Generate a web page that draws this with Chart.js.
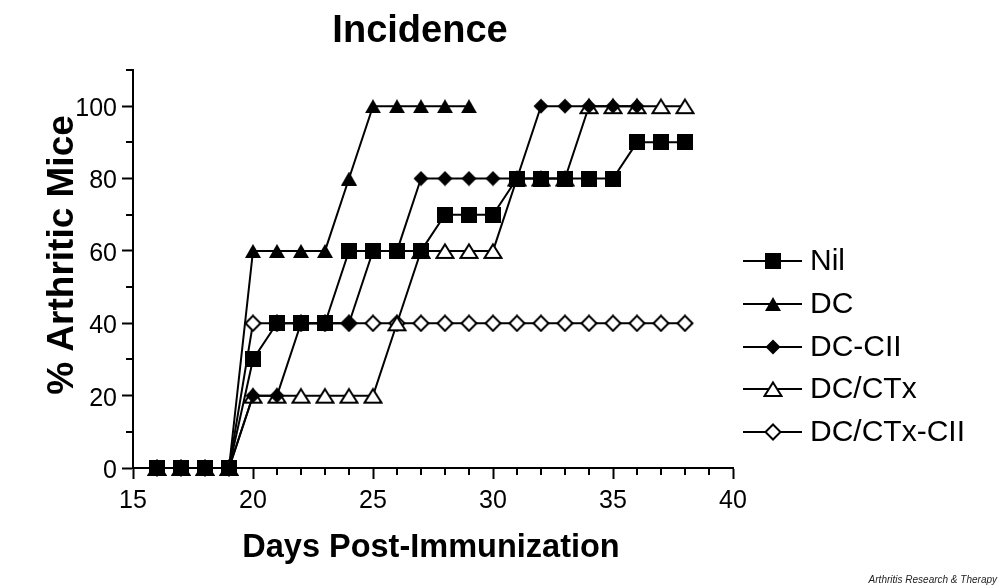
<!DOCTYPE html>
<html>
<head>
<meta charset="utf-8">
<script src="https://cdn.jsdelivr.net/npm/chart.js@4"></script>
<style>
html,body{margin:0;padding:0;background:#fff;}
#wrap{width:1000px;height:588px;position:relative;}
</style>
</head>
<body>
<div id="wrap"><canvas id="c" width="1000" height="588"></canvas></div>
<script>
// ---- data ----
const days = [16,17,18,19,20,21,22,23,24,25,26,27,28,29,30,31,32,33,34,35,36,37,38];
const seriesNames = ["Nil","DC","DC-CII","DC/CTx","DC/CTx-CII"];
const nil      = [0,0,0,0,30,40,40,40,60,60,60,60,70,70,70,80,80,80,80,80,90,90,90];
const dc       = [0,0,0,0,60,60,60,60,80,100,100,100,100,100,null,null,null,null,null,null,null,null,null];
const dcCII    = [0,0,0,0,20,20,40,40,40,60,60,80,80,80,80,80,100,100,100,100,100,null,null];
const dcCTx    = [0,0,0,0,20,20,20,20,20,20,40,60,60,60,60,80,80,80,100,100,100,100,100];
const dcCTxCII = [0,0,0,0,40,40,40,40,40,40,40,40,40,40,40,40,40,40,40,40,40,40,40];
const xTicksMajor = [15,20,25,30,35,40];
const yTicksMajor = [0,20,40,60,80,100];
const titleText = "Incidence";
const xTitle = "Days Post-Immunization";
const yTitle = "% Arthritic Mice";
const footerText = "Arthritis Research & Therapy";

const FONT = "'Liberation Sans', Arial, Helvetica, sans-serif";
Chart.defaults.font.family = FONT;
Chart.defaults.color = '#000';

function toPts(arr){
  const out = [];
  arr.forEach((v,i)=>{ if(v!==null) out.push({x:days[i], y:v}); });
  return out;
}

// marker images (bounding-box centred, like the original plotting program)
function marker(w, h, pts, fill, stroke){
  const cv = document.createElement('canvas');
  cv.width = w; cv.height = h;
  const c = cv.getContext('2d');
  c.beginPath();
  pts.forEach((p,i)=> i ? c.lineTo(p[0],p[1]) : c.moveTo(p[0],p[1]));
  c.closePath();
  c.fillStyle = fill; c.fill();
  if(stroke){ c.lineWidth = stroke; c.strokeStyle = '#000'; c.lineJoin = 'miter'; c.stroke(); }
  return cv;
}
const mSquare   = marker(16,16, [[0,0],[16,0],[16,16],[0,16]], '#000', 0);
const mTriFill  = marker(16,14, [[8,0],[16,14],[0,14]], '#000', 0);
const mDiaFill  = marker(16,16, [[8,0.5],[15.5,8],[8,15.5],[0.5,8]], '#000', 0);
const mTriOpen  = marker(20,18, [[10,2.5],[18.5,16],[1.5,16]], '#fff', 2);
const mDiaOpen  = marker(18,18, [[9,1.5],[16.5,9],[9,16.5],[1.5,9]], '#fff', 2);
const markers = [mSquare, mTriFill, mDiaFill, mTriOpen, mDiaOpen];

const allSeries = [nil, dc, dcCII, dcCTx, dcCTxCII];

const datasets = allSeries.map((s,i)=>({
  label: seriesNames[i],
  data: toPts(s),
  order: i,
  borderColor:'#000',
  borderWidth:2,
  backgroundColor:'#000',
  pointStyle: markers[i],
  pointRadius: 8,
  pointHoverRadius: 8,
  tension:0,
  clip:false
}));

const extras = {
  id:'extras',
  afterDraw(chart){
    const ctx = chart.ctx;
    const xs = chart.scales.x, ys = chart.scales.y;
    const ca = chart.chartArea;
    ctx.save();
    // minor ticks
    ctx.strokeStyle = '#000';
    ctx.lineWidth = 2;
    ctx.beginPath();
    for(let v=16; v<40; v++){
      if(xTicksMajor.includes(v)) continue;
      const px = Math.round(xs.getPixelForValue(v));
      ctx.moveTo(px, ca.bottom); ctx.lineTo(px, ca.bottom+7);
    }
    for(let v=10; v<=110; v+=10){
      if(yTicksMajor.includes(v)) continue;
      const py = Math.round(ys.getPixelForValue(v));
      ctx.moveTo(ca.left-7, py); ctx.lineTo(ca.left, py);
    }
    ctx.stroke();

    // title
    ctx.fillStyle = '#000';
    ctx.textAlign = 'center';
    ctx.textBaseline = 'alphabetic';
    ctx.font = "bold 38px " + FONT;
    ctx.fillText(titleText, 420, 42);
    // x title
    ctx.font = "bold 32.5px " + FONT;
    ctx.fillText(xTitle, 431, 557);
    // y title
    ctx.save();
    ctx.translate(73, 255);
    ctx.rotate(-Math.PI/2);
    ctx.font = "bold 37px " + FONT;
    ctx.fillText(yTitle, 0, 0);
    ctx.restore();

    // legend
    const rows = [261, 304, 347, 389, 432];
    chart.data.datasets.forEach((ds,i)=>{
      const y = rows[i];
      ctx.strokeStyle = '#000';
      ctx.lineWidth = 2;
      ctx.beginPath();
      ctx.moveTo(743, y); ctx.lineTo(802, y);
      ctx.stroke();
      Chart.helpers.drawPoint(ctx, {pointStyle: ds.pointStyle, radius: 8, rotation:0, borderWidth:0}, 773, y);
      ctx.fillStyle = '#000';
      ctx.textAlign = 'left';
      ctx.textBaseline = 'middle';
      ctx.font = "30px " + FONT;
      ctx.fillText(ds.label, 810, y+1);
    });

    // footer
    ctx.font = "italic 10px " + FONT;
    ctx.fillStyle = '#222';
    ctx.textAlign = 'right';
    ctx.textBaseline = 'middle';
    ctx.fillText(footerText, 997, 580);
    ctx.restore();
  }
};

new Chart(document.getElementById('c'), {
  type:'line',
  data:{datasets},
  options:{
    responsive:false,
    animation:false,
    devicePixelRatio:1,
    layout:{padding:{left:0, top:70, right:267, bottom:0}},
    plugins:{legend:{display:false}, title:{display:false}, tooltip:{enabled:false}},
    scales:{
      x:{
        type:'linear', min:15, max:40,
        afterFit(s){ s.height = 120; },
        ticks:{stepSize:1, autoSkip:false, maxRotation:0, padding:7,
          font:{size:25}, color:'#000',
          callback:(v)=> xTicksMajor.includes(v) ? String(v) : ''},
        grid:{drawOnChartArea:false, drawTicks:true, tickLength:11, tickWidth:2,
          tickColor:(c)=> (c.tick && xTicksMajor.includes(c.tick.value)) ? '#000' : 'rgba(0,0,0,0)'},
        border:{display:true, color:'#000', width:2}
      },
      y:{
        type:'linear', min:0, max:110,
        afterFit(s){ s.width = 133; },
        ticks:{stepSize:10, autoSkip:false, padding:5, labelOffset:3,
          font:{size:25}, color:'#000',
          callback:(v)=> yTicksMajor.includes(v) ? String(v) : ''},
        grid:{drawOnChartArea:false, drawTicks:true, tickLength:11, tickWidth:2,
          tickColor:(c)=> (c.tick && yTicksMajor.includes(c.tick.value)) ? '#000' : 'rgba(0,0,0,0)'},
        border:{display:true, color:'#000', width:2}
      }
    }
  },
  plugins:[extras]
});
</script>
</body>
</html>
